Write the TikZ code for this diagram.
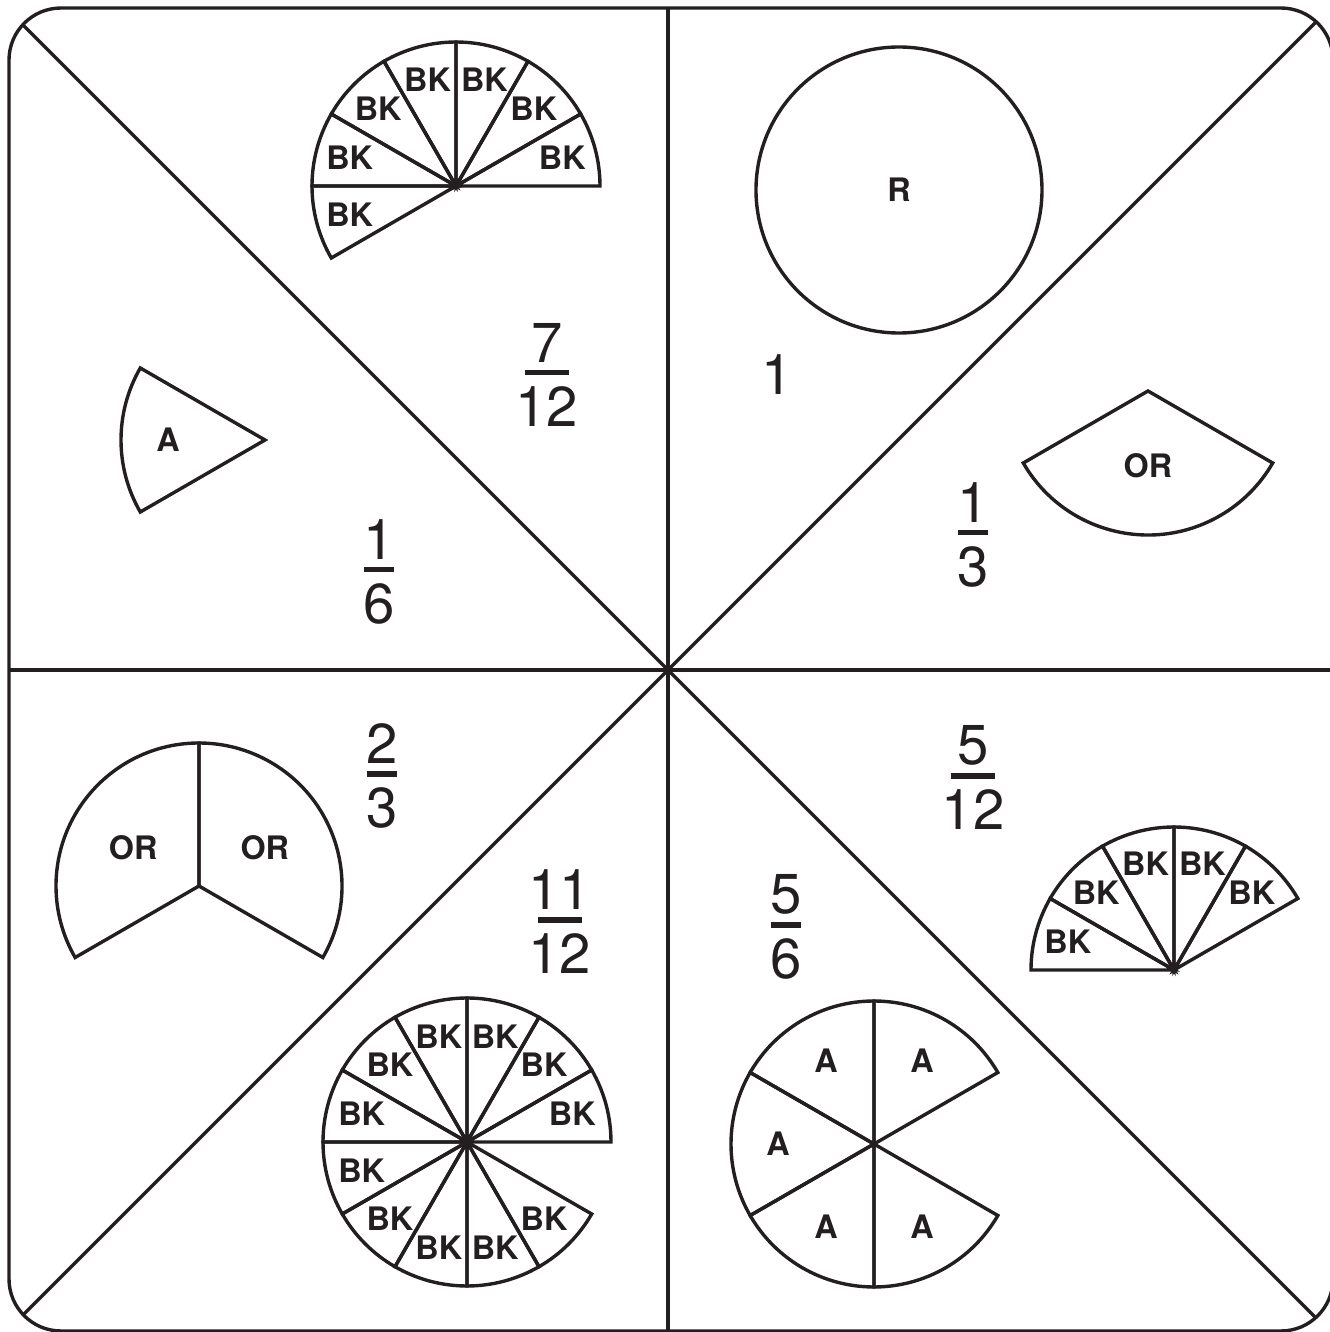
\documentclass[tikz,border=0pt]{standalone}
\usepackage{fontspec}
\setmainfont{TeX Gyre Heros}
\usetikzlibrary{positioning, calc}
\definecolor{ink}{RGB}{35, 31, 32}

% fraction: name, bar centre, numerator, denominator, half bar width
\newcommand{\fraclabel}[5]{%
  \coordinate (#1) at (#2);
  \node[digit, anchor=south] (#1-num) at ($(#1)+(0,10)$) {#3};
  \node[digit, anchor=north] (#1-den) at ($(#1)+(0,-13)$) {#4};
  \draw[fracbar] ($(#1)+(-#5,0)$) -- ($(#1)+(#5,0)$);
}

\begin{document}
\begin{tikzpicture}[
  x=0.01cm, y=0.01cm,
  rule/.style={draw=ink, line width=0.034cm},
  wedge/.style={draw=ink, line width=0.034cm, line join=miter},
  cell/.style={font=\fontsize{9.2}{11}\selectfont\bfseries, text=ink, inner sep=0},
  digit/.style={font=\fontsize{16}{19}\selectfont, text=ink, inner sep=0},
  fracbar/.style={draw=ink, line width=0.05cm}
]
  \useasboundingbox (0,0) rectangle (1330,1332);
  \coordinate (O) at (668,662);

  % the eight parts of the board
  \begin{scope}
    \clip[rounded corners=0.52cm] (9,1) rectangle (1333,1324);
    \draw[rule] ($(O)+(90:1000)$) -- ($(O)+(270:1000)$);
    \draw[rule] ($(O)+(0:1000)$) -- ($(O)+(180:1000)$);
    \draw[rule] ($(O)+(45:1000)$) -- ($(O)+(225:1000)$);
    \draw[rule] ($(O)+(135:1000)$) -- ($(O)+(315:1000)$);
  \end{scope}
  \draw[rule, rounded corners=0.52cm] (9,1) rectangle (1333,1324);

  % 7/12
  \coordinate (c712) at (456,1146);
  \foreach \k [evaluate=\k as \a using 30*\k] in {0,...,6} {
    \draw[wedge] (c712) -- ++(\a:144) arc[start angle=\a, delta angle=30, radius=144] -- cycle;
    \node[cell] (bk712-\k) at ($(c712)+(\a+15:110)$) {BK};
  }

  % 1
  \draw[wedge] (899,1142) circle[radius=143];
  \node[cell] (whole) at (899,1142) {R};

  % 1/3
  \coordinate (c13) at (1148,941);
  \draw[wedge] (c13) -- ++(210:144) arc[start angle=210, delta angle=120, radius=144] -- cycle;
  \node[cell] (or13) at ($(c13)+(270:75)$) {OR};

  % 1/6
  \coordinate (c16) at (265,892);
  \draw[wedge] (c16) -- ++(150:144) arc[start angle=150, delta angle=60, radius=144] -- cycle;
  \node[cell] (a16) at ($(c16)+(180:97)$) {A};

  % 2/3
  \coordinate (c23) at (199,446);
  \foreach \k [evaluate=\k as \a using 120*\k-30] in {0,1} {
    \draw[wedge] (c23) -- ++(\a:143) arc[start angle=\a, delta angle=120, radius=143] -- cycle;
    \node[cell] (or23-\k) at ($(c23)+(\a+60:76)$) {OR};
  }

  % 5/12
  \coordinate (c512) at (1174,362);
  \foreach \k [evaluate=\k as \a using 30*\k+30] in {0,...,4} {
    \draw[wedge] (c512) -- ++(\a:143) arc[start angle=\a, delta angle=30, radius=143] -- cycle;
    \node[cell] (bk512-\k) at ($(c512)+(\a+15:110)$) {BK};
  }

  % 11/12
  \coordinate (c1112) at (467,190);
  \foreach \k [evaluate=\k as \a using 30*\k] in {0,...,10} {
    \draw[wedge] (c1112) -- ++(\a:144) arc[start angle=\a, delta angle=30, radius=144] -- cycle;
    \node[cell] (bk1112-\k) at ($(c1112)+(\a+15:109)$) {BK};
  }

  % 5/6
  \coordinate (c56) at (874,188);
  \foreach \k [evaluate=\k as \a using 60*\k+30] in {0,...,4} {
    \draw[wedge] (c56) -- ++(\a:143) arc[start angle=\a, delta angle=60, radius=143] -- cycle;
    \node[cell] (a56-\k) at ($(c56)+(\a+30:96)$) {A};
  }

  % the numbers
  \node[digit] (one) at (777,957) {1};
  \fraclabel{f712}{547,959}{7}{12}{22}
  \fraclabel{f13}{973,799}{1}{3}{15}
  \fraclabel{f16}{379,762}{1}{6}{15}
  \fraclabel{f23}{382,558}{2}{3}{15}
  \fraclabel{f512}{973,556}{5}{12}{22}
  \fraclabel{f1112}{560,412}{11}{12}{22}
  \fraclabel{f56}{786,407}{5}{6}{15}
\end{tikzpicture}
\end{document}
